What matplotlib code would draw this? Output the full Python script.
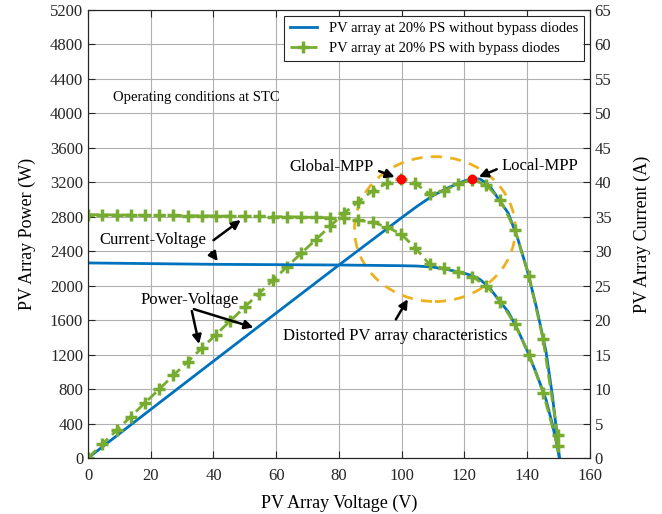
import matplotlib.pyplot as plt
from matplotlib.patches import Ellipse

plt.rcParams['font.family'] = ['Liberation Serif', 'DejaVu Serif']

# without bypass diodes (blue)
v_nb = [0, 20, 40, 60, 80, 100, 105, 110, 115, 120, 122.5, 125, 128, 131, 134,
        137, 140, 143, 146, 148, 149.5, 150.3]
i_nb = [28.3, 28.2, 28.1, 28.05, 28.0, 27.9, 27.85, 27.7, 27.3, 26.8, 26.45, 25.9,
        24.7, 22.9, 21.2, 18.6, 15.6, 12.2, 8.5, 5.0, 1.9, 0]
p_nb = [0, 564, 1124, 1683, 2240, 2790, 2924, 3047, 3140, 3216, 3240, 3238, 3162,
        3000, 2841, 2548, 2184, 1745, 1241, 740, 284, 0]

# with bypass diodes (green, with markers)
v_b = [0, 4.5, 9.1, 13.6, 18.1, 22.7, 27.2, 31.8, 36.3, 40.8, 45.4, 49.9, 54.4,
       59.0, 63.5, 68.0, 72.6, 77.1, 81.7, 86.2, 90.7, 95.3, 99.8, 104.3, 108.9,
       113.4, 117.9, 122.5, 127.0, 131.5, 136.1, 140.6, 145.1, 149.7]
i_b = [35.3, 35.3, 35.25, 35.25, 35.2, 35.2, 35.2, 35.15, 35.15, 35.1, 35.1, 35.05,
       35.05, 35.0, 35.0, 34.95, 34.9, 34.85, 34.8, 34.5, 34.2, 33.5, 32.5, 30.5,
       28.1, 27.5, 27.0, 26.3, 25.0, 22.7, 19.4, 15.0, 9.5, 1.8]
p_b = [0, 160, 320, 480, 637, 800, 958, 1118, 1276, 1433, 1594, 1750, 1907, 2065,
       2222, 2377, 2534, 2688, 2843, 2975, 3100, 3190, 3240, 3190, 3065, 3100, 3180,
       3230, 3170, 2990, 2650, 2110, 1380, 270]

mpp_v = [99.8, 122.5]
mpp_p = [3240, 3240]

blue = '#0072BD'
green = '#77AC30'

fig = plt.figure(figsize=(6.62, 5.14), dpi=100)
ax = fig.add_axes([0.133, 0.109, 0.758, 0.8715])
ax2 = ax.twinx()

l1, = ax.plot(v_nb, p_nb, color=blue, lw=2,
              label='PV array at 20% PS without bypass diodes')
l2, = ax.plot(v_b, p_b, color=green, lw=2, ls=(0, (4, 2)), marker='+', ms=9,
              mew=2.5, label='PV array at 20% PS with bypass diodes')
ax2.plot(v_nb, i_nb, color=blue, lw=2)
ax2.plot(v_b, i_b, color=green, lw=2, ls=(0, (4, 2)), marker='+', ms=9, mew=2.5)
ax.plot(mpp_v, mpp_p, 'o', color='red', ms=6, zorder=5)

ax.add_patch(Ellipse((110.6, 2657), 51.3, 1682, fill=False, ec='#EDB120',
                     ls=(0, (4, 3)), lw=2))

ax.set_xlim(0, 160)
ax.set_ylim(0, 5200)
ax2.set_ylim(0, 65)
ax.set_xticks(range(0, 161, 20))
ax.set_yticks(range(0, 5201, 400))
ax2.set_yticks(range(0, 66, 5))
ax.grid(True, color='#b0b0b0', lw=0.8)
ax.set_axisbelow(True)

for a in (ax, ax2):
    a.tick_params(direction='in', labelsize=12, length=5, colors='#262626')
    for s in a.spines.values():
        s.set_color('#262626')
ax.tick_params(top=True, right=False)
ax.tick_params(axis='x', pad=7)

ax.set_xlabel('PV Array Voltage (V)', fontsize=13, labelpad=8)
ax.set_ylabel('PV Array Power (W)', fontsize=13, labelpad=10)
ax2.set_ylabel('PV Array Current (A)', fontsize=13, labelpad=16)

leg = ax.legend(handles=[l1, l2], loc='upper right', fontsize=10.5,
                fancybox=False, edgecolor='#262626', framealpha=1,
                handlelength=1.9, borderaxespad=0.4)
leg.get_frame().set_linewidth(0.8)

ax.text(7.9, 4188, 'Operating conditions at STC', fontsize=10.5, va='center')

arr = dict(arrowstyle='-|>', color='k', lw=1.8, mutation_scale=13)
ax.text(77.6, 3376, 'Global-MPP', fontsize=12, ha='center', va='center')
ax.annotate('', xy=(98.6, 3250), xytext=(92.0, 3341), arrowprops=arr)
ax.text(144.2, 3387, 'Local-MPP', fontsize=12, ha='center', va='center')
ax.annotate('', xy=(123.8, 3250), xytext=(131.1, 3364), arrowprops=arr)
ax.text(20.6, 2529, 'Current-Voltage', fontsize=12, ha='center', va='center')
ax.annotate('', xy=(49.4, 2781), xytext=(39.3, 2509), arrowprops=arr)
ax.annotate('', xy=(41.9, 2259), xytext=(38.8, 2413), arrowprops=arr)
ax.text(32.4, 1833, 'Power-Voltage', fontsize=12, ha='center', va='center')
ax.annotate('', xy=(35.6, 1291), xytext=(32.9, 1737), arrowprops=arr)
ax.annotate('', xy=(53.6, 1505), xytext=(32.9, 1737), arrowprops=arr)
ax.text(98.0, 1415, 'Distorted PV array characteristics', fontsize=12,
        ha='center', va='center')
ax.annotate('', xy=(102.4, 1871), xytext=(97.7, 1581), arrowprops=arr)

fig.savefig('out.png', dpi=100)
